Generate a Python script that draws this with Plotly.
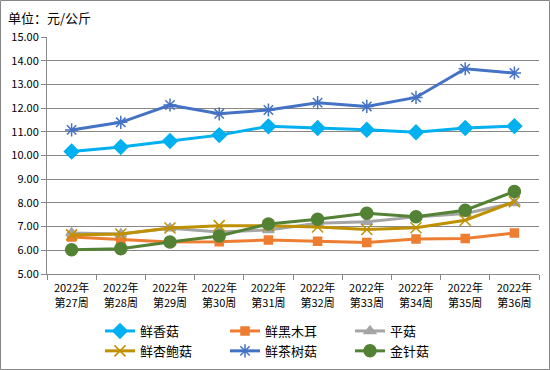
import plotly.graph_objects as go

weeks = ["2022年<br>第27周", "2022年<br>第28周", "2022年<br>第29周", "2022年<br>第30周", "2022年<br>第31周",
         "2022年<br>第32周", "2022年<br>第33周", "2022年<br>第34周", "2022年<br>第35周", "2022年<br>第36周"]

xianggu = [10.17, 10.36, 10.61, 10.86, 11.23, 11.16, 11.09, 10.98, 11.16, 11.24]
heimuer = [6.56, 6.45, 6.35, 6.36, 6.43, 6.38, 6.33, 6.48, 6.50, 6.73]
pinggu = [6.73, 6.69, 6.93, 6.77, 6.86, 7.14, 7.20, 7.41, 7.55, 8.00]
xingbaogu = [6.65, 6.69, 6.94, 7.04, 7.04, 6.98, 6.88, 6.95, 7.27, 8.05]
chashugu = [11.08, 11.40, 12.13, 11.76, 11.92, 12.23, 12.07, 12.45, 13.66, 13.48]
jinzhengu = [6.02, 6.07, 6.35, 6.60, 7.11, 7.31, 7.56, 7.42, 7.69, 8.48]

series = [
    ("鲜香菇", xianggu, "#00B0F0", "diamond", 11),
    ("鲜黑木耳", heimuer, "#ED7D31", "square", 8),
    ("平菇", pinggu, "#A5A5A5", "triangle-up", 10),
    ("鲜杏鲍菇", xingbaogu, "#BF9000", "x-thin-open", 11),
    ("鲜茶树菇", chashugu, "#4472C4", "asterisk-open", 11),
    ("金针菇", jinzhengu, "#548235", "circle", 12),
]

fig = go.Figure()
for name, vals, color, sym, size in series:
    fig.add_trace(go.Scatter(
        x=weeks, y=vals, name=name, mode="lines+markers",
        line=dict(color=color, width=3),
        marker=dict(symbol=sym, size=size, color=color,
                    line=dict(color=color, width=1.5)),
    ))

W, H = 550, 370
ML, MR, MT, MB = 47, 11, 37, 96
PW, PH = W - ML - MR, H - MT - MB

fig.update_layout(
    width=W, height=H,
    margin=dict(l=ML, r=MR, t=MT, b=MB, pad=0),
    paper_bgcolor="white", plot_bgcolor="white",
    font=dict(family="Noto Sans CJK SC, DejaVu Sans", size=11, color="#000000"),
    title=dict(text="单位：元/公斤", x=8 / W, xanchor="left", y=1 - 18 / H, yanchor="middle",
               font=dict(size=13, color="#000000")),
    showlegend=True,
    legend=dict(orientation="h", xref="container", yref="container",
                x=100 / W, xanchor="left", y=1 - 316 / H, yanchor="top",
                entrywidth=80, font=dict(size=13), tracegroupgap=0,
                bgcolor="rgba(0,0,0,0)"),
    shapes=[dict(type="rect", xref="paper", yref="paper",
                 x0=(0.5 - ML) / PW, x1=(W - 0.5 - ML) / PW,
                 y0=(0.5 - MB) / PH, y1=(H - 0.5 - MB) / PH,
                 line=dict(color="#868686", width=1), fillcolor="rgba(0,0,0,0)", layer="below")],
)

fig.update_xaxes(type="category", showgrid=False, showline=True, linecolor="#888888", linewidth=1,
                 ticks="outside", tickson="boundaries", ticklen=5, tickcolor="#888888",
                 tickfont=dict(size=11), range=[-0.5, 9.5], automargin=False,
                 ticklabelstandoff=4)
fig.update_yaxes(range=[5, 15], dtick=1, tickformat=".2f", showgrid=True, gridcolor="#888888",
                 gridwidth=1, showline=True, linecolor="#888888", linewidth=1,
                 ticks="outside", ticklen=5, tickcolor="#888888", zeroline=False,
                 tickfont=dict(size=11), automargin=False)

fig.write_html("out.html", config={"displayModeBar": False},
               post_script="document.body.style.margin='0';")
